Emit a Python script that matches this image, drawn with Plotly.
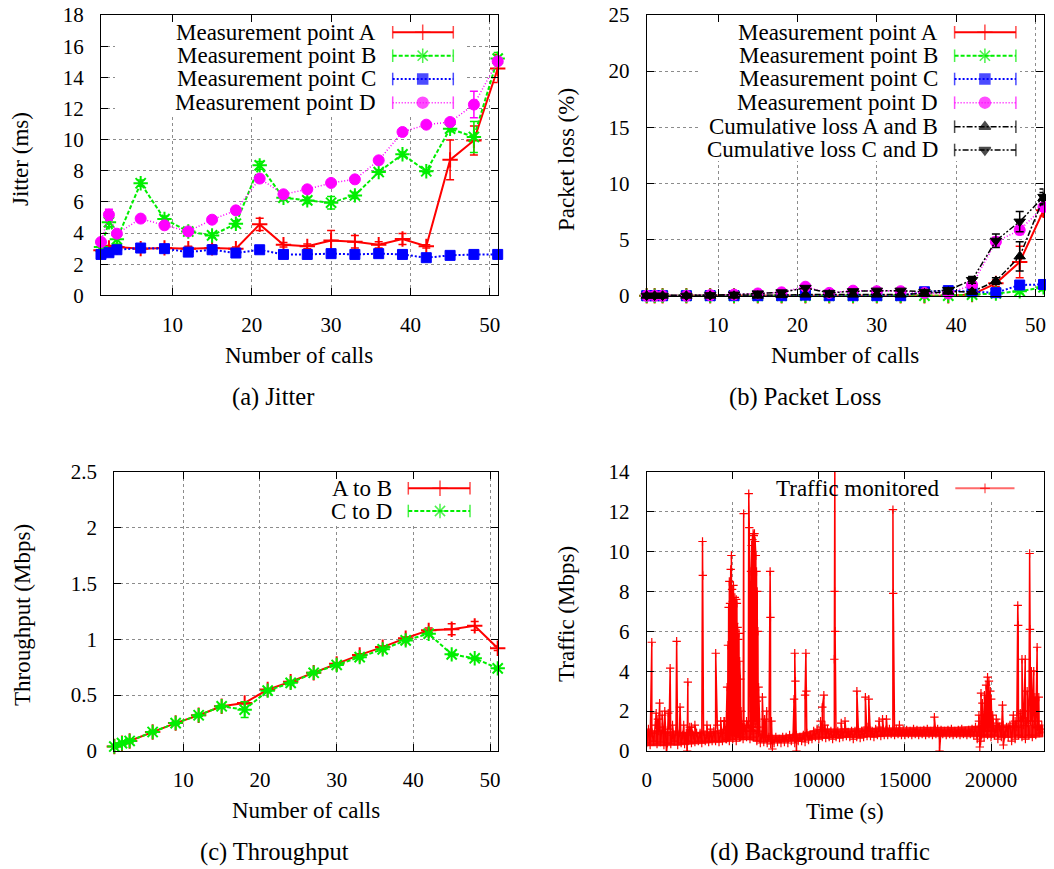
import plotly.graph_objects as go

# page geometry: the html body has an 8px default margin, so the figure is
# sized to fit the 1054x869 window exactly from that offset
PAGE_W, PAGE_H, OFF = 1054, 869, 8
W, H = PAGE_W - OFF, PAGE_H - OFF
FONT = "Liberation Serif"

# ---------------- data ----------------
calls = [1, 2, 3, 6, 9, 12, 15, 18, 21, 24, 27, 30, 33, 36, 39, 42, 45, 48, 51]

jitter_A = [2.9, 3.05, 3.1, 3.0, 3.05, 3.0, 3.05, 3.0, 4.56, 3.25, 3.15, 3.53, 3.45, 3.25, 3.62, 3.15, 8.7, 9.95, 14.56]
jitter_A_err = [0.1, 0.15, 0.15, 0.1, 0.2, 0.15, 0.2, 0.1, 0.4, 0.15, 0.15, 0.64, 0.4, 0.2, 0.35, 0.1, 1.28, 0.93, 0.9]
jitter_B = [3.1, 4.7, 3.6, 7.2, 4.9, 4.1, 3.85, 4.6, 8.35, 6.27, 6.1, 5.95, 6.42, 7.92, 9.06, 7.97, 10.7, 10.17, 15.2]
jitter_B_err = [0.15, 0.3, 0.3, 0.2, 0.2, 0.15, 0.15, 0.2, 0.25, 0.15, 0.2, 0.4, 0.2, 0.15, 0.15, 0.1, 0.2, 1.0, 0.4]
jitter_C = [2.63, 2.74, 2.93, 3.04, 3.0, 2.78, 2.93, 2.72, 2.93, 2.63, 2.63, 2.68, 2.63, 2.68, 2.63, 2.42, 2.57, 2.63, 2.63]
jitter_C_err = [0.05] * 19
jitter_D = [3.43, 5.18, 3.96, 4.93, 4.5, 4.11, 4.86, 5.46, 7.5, 6.49, 6.81, 7.22, 7.45, 8.67, 10.49, 10.96, 11.13, 12.25, 15.03]
jitter_D_err = [0.1, 0.35, 0.1, 0.1, 0.1, 0.1, 0.1, 0.1, 0.15, 0.1, 0.1, 0.15, 0.1, 0.1, 0.1, 0.1, 0.15, 0.85, 0.2]

loss_A = [0, 0, 0, 0, 0, 0, 0, 0, 0, 0, 0, 0, 0, 0, 0, 0.1, 1.1, 3.0, 7.6]
loss_A_err = [0.02] * 15 + [0.15, 0.3, 1.4, 0.5]
loss_B = [0, 0, 0, 0, 0, 0, 0, 0, 0, 0, 0, 0, 0, 0, 0, 0.1, 0.2, 0.4, 0.75]
loss_B_err = [0.05] * 12 + [0.1, 0.3, 0.2, 0.15, 0.2, 0.2, 0.3]
loss_C = [0, 0, 0, 0, 0, 0, 0, 0, 0.05, 0, 0, 0, 0, 0.35, 0.45, 0.35, 0.27, 0.95, 1.0]
loss_C_err = [0.03] * 19
loss_D = [0, 0, 0, 0, 0.05, 0.1, 0.2, 0.3, 0.8, 0.25, 0.45, 0.4, 0.4, 0.25, 0.2, 0.95, 4.8, 5.85, 7.9]
loss_D_err = [0.03] * 15 + [0.3, 0.4, 0.4, 0.3]
loss_AB = [0, 0, 0, 0, 0, 0, 0, 0.05, 0.1, 0.1, 0.1, 0.1, 0.1, 0.2, 0.35, 0.35, 1.3, 3.5, 8.7]
loss_AB_err = [0.03] * 15 + [0.2, 0.3, 1.3, 0.5]
loss_CD = [0, 0, 0, 0, 0.05, 0.1, 0.2, 0.3, 0.7, 0.25, 0.4, 0.45, 0.45, 0.35, 0.5, 1.4, 4.9, 6.6, 8.8]
loss_CD_err = [0.03] * 15 + [0.3, 0.6, 0.9, 0.7]

thr_AB = [0.04, 0.07, 0.09, 0.17, 0.25, 0.32, 0.40, 0.43, 0.55, 0.62, 0.70, 0.78, 0.86, 0.93, 1.01, 1.08, 1.09, 1.12, 0.92]
thr_AB_err = [0.01] * 15 + [0.02, 0.05, 0.04, 0.02]
thr_CD = [0.04, 0.07, 0.09, 0.17, 0.25, 0.32, 0.40, 0.37, 0.54, 0.61, 0.70, 0.77, 0.84, 0.91, 0.99, 1.05, 0.865, 0.83, 0.74]
thr_CD_err = [0.01] * 7 + [0.07] + [0.01] * 11

# background traffic: baseline readings every 100 s, plus bursts/spikes
traffic_step = 100
traffic_base = [
    0.4, 1.1, 0.3, 0.9, 0.5, 1.3, 0.35, 1.0, 0.45, 1.2,
    0.3, 0.9, 0.4, 1.1, 0.35, 0.8, 0.5, 1.0, 0.3, 0.9,
    0.4, 0.8, 0.35, 0.9, 0.5, 1.2, 0.4, 0.8, 0.45, 0.9,
    0.5, 0.9, 0.4, 1.0, 0.5, 0.8, 0.45, 0.9, 0.5, 1.0,
    0.5, 1.3, 0.45, 0.9, 0.5, 1.5, 0.6, 0.9, 0.5, 1.1,
    0.6, 1.2, 0.5, 1.4, 0.7, 1.5, 0.6, 1.2, 0.7, 1.3,
    0.6, 1.5, 0.7, 1.2, 0.5, 0.9, 0.4, 0.8, 0.45, 0.7,
    0.4, 0.7, 0.35, 0.6, 0.4, 0.7, 0.45, 0.6, 0.4, 0.7,
    0.45, 0.7, 0.4, 0.8, 0.5, 0.7, 0.4, 0.8, 0.5, 0.7,
    0.5, 0.8, 0.45, 0.9, 0.55, 0.8, 0.6, 1.0, 0.7, 1.1,
    0.6, 1.2, 0.7, 1.0, 0.65, 1.1, 0.7, 1.0, 0.6, 0.95,
    0.7, 1.0, 0.65, 0.95, 0.7, 1.1, 0.75, 0.95, 0.7, 1.0,
    0.6, 1.0, 0.7, 0.95, 0.65, 1.0, 0.7, 1.05, 0.75, 1.0,
    0.75, 1.0, 0.7, 1.1, 0.8, 1.2, 0.75, 1.0, 0.8, 1.05,
    0.8, 1.1, 0.85, 1.05, 0.8, 1.1, 0.85, 1.0, 0.8, 1.05,
    0.8, 1.05, 0.85, 1.0, 0.8, 1.1, 0.85, 1.05, 0.8, 1.0,
    0.85, 1.05, 0.8, 1.1, 0.85, 1.0, 0.8, 1.05, 0.85, 1.1,
    0.8, 1.05, 0.85, 1.0, 0.8, 1.05, 0.85, 1.1, 0.8, 1.0,
    0.85, 1.05, 0.8, 1.1, 0.85, 1.0, 0.8, 1.05, 0.85, 1.1,
    0.8, 1.2, 0.6, 1.5, 0.5, 1.4, 0.7, 1.3, 0.8, 1.2,
    0.7, 1.3, 0.8, 1.1, 0.6, 1.2, 0.7, 1.3, 0.8, 1.2,
    0.7, 1.3, 0.5, 1.4, 0.6, 1.2, 0.8, 1.5, 0.7, 1.3,
    0.6, 1.4, 0.8, 1.5, 0.7, 1.3, 0.8, 1.2, 0.9, 1.1,
    0.95,
]
# dense envelope of the noisy baseline band
band_time = [0, 1000, 2000, 3000, 4000, 4600, 5000, 6000, 6600, 7000, 8000, 8500, 9000,
             10000, 11000, 12000, 13000, 14000, 15000, 16000, 17000, 18000, 19000, 20000,
             21000, 22000, 23050]
band_low = [0.25, 0.25, 0.3, 0.35, 0.4, 0.45, 0.55, 0.55, 0.45, 0.45, 0.45, 0.5, 0.55,
            0.62, 0.65, 0.68, 0.7, 0.72, 0.72, 0.72, 0.72, 0.72, 0.7, 0.7, 0.68, 0.65, 0.7]
band_high = [1.05, 1.0, 0.95, 0.95, 1.0, 1.15, 1.3, 1.3, 0.85, 0.8, 0.8, 0.85, 0.9,
             1.1, 1.12, 1.12, 1.15, 1.18, 1.2, 1.2, 1.2, 1.2, 1.25, 1.3, 1.25, 1.3, 1.25]
spike_time = [
    296, 551, 650, 750, 900, 1050, 1150, 1250, 1363, 1500, 1740, 1937, 2150, 2350, 2390, 2600, 2800,
    3242, 3260, 3500, 3700, 4008, 4300, 4500,
    4620, 4640, 4670, 4690, 4720, 4740, 4760, 4780, 4800, 4820, 4840, 4860, 4880, 4900, 4920, 4940,
    4960, 4980, 5000, 5020, 5040, 5060, 5080, 5100, 5120, 5140, 5160, 5180, 5200, 5220, 5240, 5260,
    5280, 5300, 5320, 5340, 5360, 5380, 5400, 5420, 5440, 5460, 5480,
    5632, 5650, 5800, 5928, 5960,
    6040, 6060, 6080, 6100, 6120, 6140, 6160, 6180, 6200, 6220, 6240, 6260, 6280, 6300, 6320, 6340,
    6360, 6380, 6400, 6420, 6440, 6460, 6480, 6500,
    6720, 6850, 6970, 7170, 7190, 7250, 7300,
    8560, 8600, 8640, 8700, 9200, 9246, 9280,
    10100, 10200, 10290, 10350, 10900, 10915, 10928, 10945,
    11300, 11520, 12210, 12500, 12703, 12800, 12900, 13500, 13700, 13927,
    14304, 14320, 14681, 16711, 17010,
    19300, 19350, 19420, 19460, 19500, 19560, 19620, 19680, 19716, 19760, 19800, 19840, 19880, 19920,
    19960, 20012, 20060, 20100,
    20307, 20400, 20500, 20667, 20720, 21000, 21299, 21400, 21555, 21580, 21620, 21700, 21800, 21850,
    21990, 22050, 22100, 22245, 22265, 22300, 22350, 22400, 22483, 22550, 22600, 22680, 22720, 22778,
    22850, 22950,
]
spike_value = [
    5.45, 1.9, 1.6, 2.4, 1.8, 2.0, -0.1, 1.9, 4.15, 1.3, 5.5, 2.2, 1.3, 0.0, 3.45, 1.2, 1.3,
    10.5, 8.8, 1.3, 1.1, 4.9, 1.5, 1.5,
    1.5, 0.6, 3.2, 0.7, 5.3, 0.8, 7.2, 1.0, 8.5, 0.8, 7.4, 1.1, 9.1, 0.9, 9.8, 1.2,
    8.1, 0.9, 7.5, 1.0, 8.3, 1.1, 6.4, 0.9, 7.7, 1.2, 6.0, 0.8, 7.6, 1.0, 7.4, 1.1,
    6.2, 0.9, 5.6, 1.0, 5.9, 0.9, 4.5, 0.8, 3.6, 0.7, 2.0,
    11.9, 1.0, 1.5, 12.9, 11.2,
    1.0, 9.0, 1.2, 10.3, 1.0, 10.6, 1.5, 10.9, 2.0, 10.8, 1.5, 10.9, 3.0, 10.5, 2.0, 9.8,
    1.5, 9.0, 2.5, 8.0, 1.2, 6.0, 1.0, 3.2,
    2.7, 1.6, 2.0, 9.0, 6.7, 1.5, 0.1,
    2.6, 4.9, 3.5, 0.0, 2.8, 4.9, 3.0,
    1.5, 2.2, 2.8, 1.3, 4.6, 8.0, 14.5, 6.0,
    1.4, 1.5, 3.0, 1.0, 2.7, 1.2, 2.6, 1.5, 1.6, 1.6,
    12.1, 7.9, 1.3, 1.7, 0.0,
    1.8, 0.2, 2.9, 0.8, 2.4, 1.0, 2.8, 1.2, 3.3, 1.0, 3.7, 1.2, 3.5, 1.5,
    3.0, 2.6, 1.0, 1.8,
    1.6, 1.4, 1.2, 2.3, 0.3, 1.2, 1.8, 1.5, 7.3, 6.3, 1.5, 1.9, 4.6, 2.0,
    4.6, 1.5, 3.0, 9.9, 6.1, 2.0, 4.0, 1.5, 4.0, 2.7, 1.2, 5.2, 1.5, 2.7,
    1.1, 1.3,
]

# ---------------- styles ----------------
RED, GREEN, BLUE, MAG, BLACK = "#ff0000", "#00ee00", "#0000ff", "#ff00ff", "#000000"

series_style = {
    "A": dict(color=RED, dash="solid", width=2, symbol="cross-thin", size=11, mlw=2),
    "B": dict(color=GREEN, dash="4px,2px", width=2, symbol="asterisk-open", size=12, mlw=2),
    "C": dict(color=BLUE, dash="2px,2px", width=2, symbol="square", size=10, mlw=1),
    "D": dict(color=MAG, dash="1px,2px", width=1.5, symbol="circle", size=11, mlw=1),
    "AB": dict(color=BLACK, dash="6px,2px,2px,2px", width=1.5, symbol="triangle-up", size=10, mlw=1),
    "CD": dict(color=BLACK, dash="2px,2px,2px,2px,6px,2px", width=1.5, symbol="triangle-down", size=10, mlw=1),
}

# panel geometry (window pixels) and axis ranges
panels = {
    "a": dict(n="", L=101, R=497.7, T=15, B=295.4, xr=[1, 51], yr=[0, 18], dx=10, dy=2),
    "b": dict(n="2", L=646.7, R=1043.5, T=15, B=295.7, xr=[1, 51], yr=[0, 25], dx=10, dy=5),
    "c": dict(n="3", L=114.3, R=497.7, T=471.7, B=751, xr=[1, 51], yr=[0, 2.5], dx=10, dy=0.5),
    "d": dict(n="4", L=646.7, R=1043.5, T=471.7, B=751, xr=[0, 23050], yr=[0, 14], dx=5000, dy=2),
}


def fx(px):  # window pixel -> paper fraction
    return (px - OFF) / W


def fy(py):
    return 1 - (py - OFF) / H


def px2x(k, px):
    p = panels[k]
    return p["xr"][0] + (px - p["L"]) / (p["R"] - p["L"]) * (p["xr"][1] - p["xr"][0])


def py2y(k, py):
    p = panels[k]
    return p["yr"][0] + (p["B"] - py) / (p["B"] - p["T"]) * (p["yr"][1] - p["yr"][0])


fig = go.Figure()


def add_series(x, y, err, st, k):
    s = series_style[st]
    n = panels[k]["n"]
    fig.add_trace(go.Scatter(
        x=x, y=y, xaxis="x" + n, yaxis="y" + n, mode="lines+markers", showlegend=False,
        cliponaxis=False,
        line=dict(color=s["color"], width=s["width"], dash=s["dash"]),
        marker=dict(symbol=s["symbol"], size=s["size"], color=s["color"],
                    line=dict(color=s["color"], width=s["mlw"])),
        error_y=dict(type="data", array=err, visible=True, color=s["color"],
                     thickness=1.5, width=4),
    ))


add_series(calls, jitter_A, jitter_A_err, "A", "a")
add_series(calls, jitter_B, jitter_B_err, "B", "a")
add_series(calls, jitter_C, jitter_C_err, "C", "a")
add_series(calls, jitter_D, jitter_D_err, "D", "a")

add_series(calls, loss_A, loss_A_err, "A", "b")
add_series(calls, loss_B, loss_B_err, "B", "b")
add_series(calls, loss_C, loss_C_err, "C", "b")
add_series(calls, loss_D, loss_D_err, "D", "b")
add_series(calls, loss_AB, loss_AB_err, "AB", "b")
add_series(calls, loss_CD, loss_CD_err, "CD", "b")

add_series(calls, thr_AB, thr_AB_err, "A", "c")
add_series(calls, thr_CD, thr_CD_err, "B", "c")

# traffic: dense band first, then the monitored series with its spikes
fig.add_trace(go.Scatter(x=band_time, y=band_low, xaxis="x4", yaxis="y4", mode="lines",
                         line=dict(color=RED, width=0.5), showlegend=False))
fig.add_trace(go.Scatter(x=band_time, y=band_high, xaxis="x4", yaxis="y4", mode="lines",
                         line=dict(color=RED, width=0.5), fill="tonexty",
                         fillcolor="rgba(255,0,0,0.9)", showlegend=False))
base_time = [i * traffic_step for i in range(len(traffic_base))]
pts = sorted(list(zip(base_time, traffic_base)) + list(zip(spike_time, spike_value)))
fig.add_trace(go.Scatter(
    x=[p[0] for p in pts], y=[p[1] for p in pts], xaxis="x4", yaxis="y4",
    mode="lines+markers", showlegend=False,
    line=dict(color=RED, width=1.5),
    marker=dict(symbol="cross-thin", size=6, color=RED, line=dict(color=RED, width=1.2)),
))

# ---------------- layout ----------------
tickfont = dict(family=FONT, size=21, color="black")


def axis_style(**kw):
    d = dict(showline=True, linecolor="black", linewidth=1.2, mirror="allticks",
             ticks="inside", ticklen=7, tickcolor="black", tickwidth=1,
             showgrid=True, gridcolor="#8c8c8c", griddash="dot", gridwidth=1,
             zeroline=False, tickfont=tickfont, fixedrange=True, tickformat="d",
             automargin=False, ticklabeloverflow="allow")
    d.update(kw)
    return d


layout = dict(
    width=W, height=H, autosize=False, margin=dict(l=0, r=0, t=0, b=0, pad=0),
    paper_bgcolor="white", plot_bgcolor="white",
    font=dict(family=FONT, color="black"),
    showlegend=False,
)
for k, p in panels.items():
    n = p["n"]
    layout["xaxis" + n] = axis_style(domain=[fx(p["L"]), fx(p["R"])], range=p["xr"],
                                     dtick=p["dx"], tick0=0, anchor="y" + n, ticklabelstandoff=10)
    layout["yaxis" + n] = axis_style(domain=[fy(p["B"]), fy(p["T"])], range=p["yr"],
                                     dtick=p["dy"], tick0=0, anchor="x" + n, ticklabelstandoff=12,
                                     tickformat="" if k == "c" else "d")
fig.update_layout(**layout)

# opaque key boxes (cover grid, under data)
key_boxes = [("a", 115, 467, 15, 116), ("b", 700, 1020, 15, 161),
             ("c", 275, 474, 471.7, 526), ("d", 720, 1020, 471.7, 500)]
for k, x0, x1, y0, y1 in key_boxes:
    n = panels[k]["n"]
    fig.add_shape(type="rect", xref="x" + n, yref="y" + n,
                  x0=px2x(k, x0), x1=px2x(k, x1), y0=py2y(k, y1), y1=py2y(k, y0),
                  fillcolor="white", line=dict(width=0), layer="between")

# keys (gnuplot style: text then sample)
LEG = 23
keys = [
    ("a", 378, 392.7, 422.7, 453.3, [
        (32.3, "Measurement point A", "A"), (55.7, "Measurement point B", "B"),
        (79.0, "Measurement point C", "C"), (102.7, "Measurement point D", "D")]),
    ("b", 940, 954.6, 984.9, 1015.9, [
        (32.3, "Measurement point A", "A"), (55.7, "Measurement point B", "B"),
        (79.0, "Measurement point C", "C"), (102.7, "Measurement point D", "D"),
        (126.7, "Cumulative loss A and B", "AB"), (150.0, "Cumulative loss C and D", "CD")]),
    ("c", 394.3, 408.3, 440, 470, [(488.3, "A to B", "A"), (511.0, "C to D", "B")]),
]
annotations = []
for k, tr, x0, xm, x1, rows in keys:
    n = panels[k]["n"]
    for yy, txt, st in rows:
        s = series_style[st]
        yv = py2y(k, yy)
        fig.add_trace(go.Scatter(
            x=[px2x(k, x0), px2x(k, xm), px2x(k, x1)], y=[yv, yv, yv],
            xaxis="x" + n, yaxis="y" + n, mode="lines+markers",
            showlegend=False, cliponaxis=False,
            line=dict(color=s["color"], width=s["width"], dash=s["dash"]),
            marker=dict(symbol=["line-ns", s["symbol"], "line-ns"], size=[9, s["size"], 9],
                        color=s["color"], line=dict(color=s["color"], width=1.5)),
        ))
        annotations.append(dict(x=fx(tr), y=fy(yy), xref="paper", yref="paper", text=txt,
                                showarrow=False, xanchor="right", yanchor="middle",
                                font=dict(family=FONT, size=LEG, color="black")))
# traffic key
yv = py2y("d", 488.3)
fig.add_trace(go.Scatter(
    x=[px2x("d", 955.3), px2x("d", 985), px2x("d", 1014.5)], y=[yv, yv, yv],
    xaxis="x4", yaxis="y4", mode="lines+markers", showlegend=False, cliponaxis=False,
    line=dict(color="#ff6a6a", width=2),
    marker=dict(symbol=["line-ns", "cross-thin", "line-ns"], size=[0, 7, 0], color=RED,
                line=dict(color=RED, width=1.2)),
))
annotations.append(dict(x=fx(940.6), y=fy(488.3), xref="paper", yref="paper",
                        text="Traffic monitored", showarrow=False, xanchor="right",
                        yanchor="middle", font=dict(family=FONT, size=LEG, color="black")))

# axis titles and captions
LBL = 23
CAP = 24.5
texts = [
    (20, 159, "Jitter (ms)", -90, LBL),
    (566, 160, "Packet loss (%)", -90, LBL),
    (22, 615, "Throughput (Mbps)", -90, LBL),
    (566, 614, "Traffic (Mbps)", -90, LBL),
    (299, 355, "Number of calls", 0, LBL),
    (845, 355, "Number of calls", 0, LBL),
    (305.7, 810, "Number of calls", 0, LBL),
    (845, 811.7, "Time (s)", 0, LBL),
    (273, 396.7, "(a) Jitter", 0, CAP),
    (805, 396.7, "(b) Packet Loss", 0, CAP),
    (274, 851.7, "(c) Throughput", 0, CAP),
    (819.7, 851.7, "(d) Background traffic", 0, CAP),
]
for x, y, t, ang, sz in texts:
    annotations.append(dict(x=fx(x), y=fy(y), xref="paper", yref="paper", text=t,
                            showarrow=False, textangle=ang, xanchor="center", yanchor="middle",
                            font=dict(family=FONT, size=sz, color="black")))
fig.update_layout(annotations=annotations)

fig.write_html("out.html")
